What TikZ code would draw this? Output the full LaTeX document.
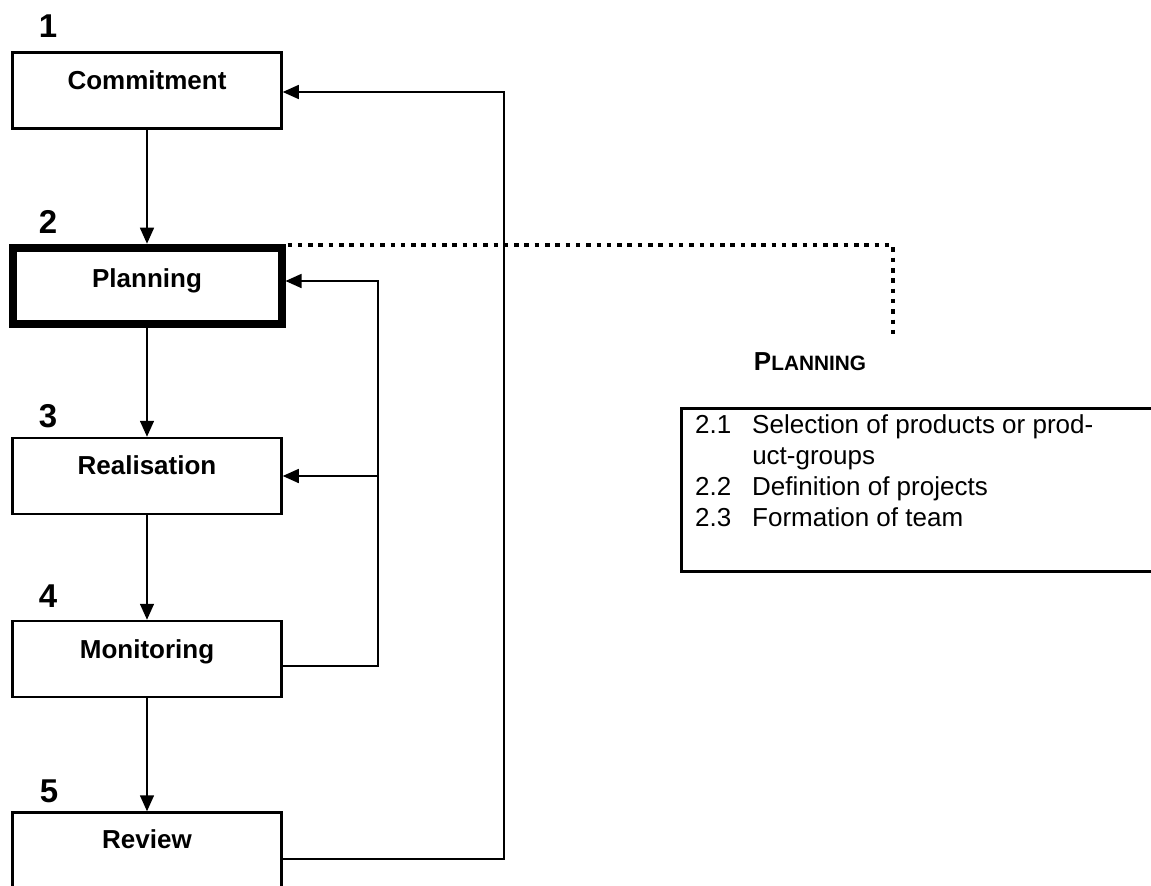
\documentclass[tikz,border=0pt]{standalone}
\usepackage{fontspec}
\setmainfont{Liberation Sans}
\usetikzlibrary{arrows.meta}
\begin{document}
\begin{tikzpicture}[x=1pt,y=1pt,
  stage/.style={draw, line width=2.5pt, minimum width=269pt, minimum height=76pt, inner sep=0pt},
  keystage/.style={stage, line width=8pt},
  stagename/.style={font=\fontsize{26}{30}\selectfont\bfseries, anchor=base, inner sep=0pt},
  stagenum/.style={font=\fontsize{33}{38}\selectfont\bfseries, anchor=base, inner sep=0pt},
  flow/.style={line width=1.5pt, -{Triangle[length=16pt,width=14pt]}},
  detail/.style={line width=4.5pt, dash pattern=on 4.5pt off 5.8pt},
  listbox/.style={draw, line width=2.5pt, minimum width=490pt, minimum height=163pt, anchor=north west, inner sep=0pt},
  listtext/.style={font=\fontsize{26}{31.3}\selectfont, anchor=base west, inner sep=0pt},
]
\clip (0,0) rectangle (1151,-886);

% the five stages of the cycle
\node[stage]    (c) at (147,-90.5) {};
\node[keystage] (p) at (147,-285.7) {};
\node[stage]    (r) at (147,-476) {};
\node[stage]    (m) at (147,-659) {};
\node[stage]    (v) at (147,-850.5) {};

\node[stagename] (c-l) at ([yshift=1pt]c.center) {Commitment};
\node[stagename] (p-l) at ([yshift=-2pt]p.center) {Planning};
\node[stagename] (r-l) at ([yshift=2pt]r.center) {Realisation};
\node[stagename] (m-l) at ([yshift=1pt]m.center) {Monitoring};
\node[stagename] (v-l) at ([yshift=2pt]v.center) {Review};

% stage numbers
\node[stagenum] (n1) at (48,-37)  {1};
\node[stagenum] (n2) at (48,-233) {2};
\node[stagenum] (n3) at (48,-427) {3};
\node[stagenum] (n4) at (48,-607) {4};
\node[stagenum] (n5) at (49,-802) {5};

% main sequence
\draw[flow] (c) -- (p);
\draw[flow] (p) -- (r);
\draw[flow] (r) -- (m);
\draw[flow] (m) -- (v);

% feedback loops
\coordinate (outer) at (504,0);
\coordinate (inner) at (378,0);
\draw[flow] ([yshift=-8.5pt]v.east) -| ([yshift=-1.5pt]c.east -| outer) -- ([yshift=-1.5pt]c.east);
\draw[flow] ([yshift=-7pt]m.east) -| ([yshift=4.7pt]p.east -| inner) -- ([yshift=4.7pt]p.east);
\draw[flow] (r.east -| inner) -- (r.east);

% detail of the planning stage
\coordinate (dend) at (893,-340);
\draw[detail] ([xshift=2pt,yshift=-1.5pt]p.north east) -| (dend);
\node[font=\bfseries, anchor=base, inner sep=0pt] (pt) at (810,-370)
  {{\fontsize{26}{30}\selectfont P}{\fontsize{20.8}{24}\selectfont LANNING}};

\node[listbox] (d) at (680,-407) {};
\node[listtext] (d-t) at (695,-433) {%
  \begin{tabular}[t]{@{}l@{\hspace{20.9pt}}l@{}}
  2.1 & Selection of products or prod-\\
      & uct-groups\\
  2.2 & Definition of projects\\
  2.3 & Formation of team
  \end{tabular}};
\end{tikzpicture}
\end{document}
